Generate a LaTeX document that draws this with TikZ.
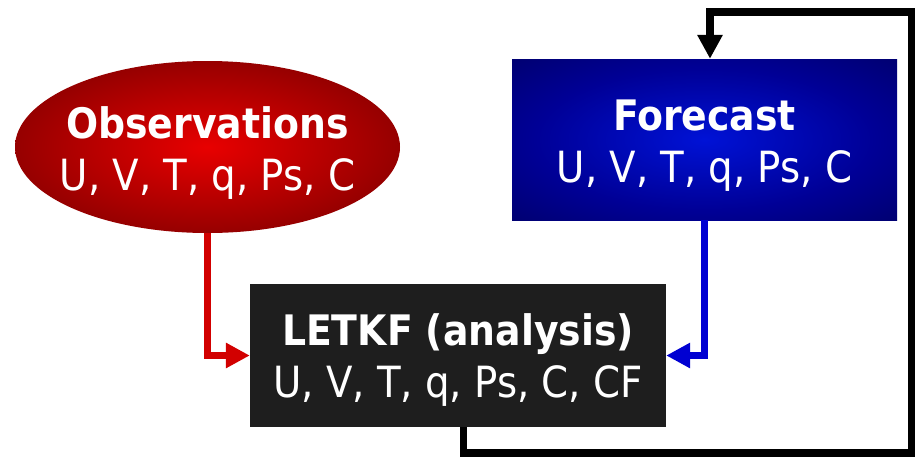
\documentclass[tikz,border=0pt]{standalone}
\usepackage{fontspec}
\setmainfont{DejaVu Sans Condensed}
\usetikzlibrary{arrows.meta,shapes.geometric}
\definecolor{obsin}{RGB}{232,0,0}
\definecolor{obsmid}{RGB}{160,0,0}
\definecolor{obsout}{RGB}{100,0,0}
\definecolor{fcin}{RGB}{0,18,214}
\definecolor{fcmid}{RGB}{0,0,150}
\definecolor{fcout}{RGB}{0,0,96}
\definecolor{letkfbg}{RGB}{30,30,30}
\definecolor{redline}{RGB}{210,0,0}
\definecolor{blueline}{RGB}{0,0,210}
\pgfdeclareradialshading{obsshade}{\pgfpoint{0bp}{0bp}}{color(0bp)=(obsin); color(22bp)=(obsmid); color(40bp)=(obsout); color(72bp)=(obsout)}
\pgfdeclareradialshading{fcshade}{\pgfpoint{0bp}{0bp}}{color(0bp)=(fcin); color(22bp)=(fcmid); color(42bp)=(fcout); color(72bp)=(fcout)}
\newcommand{\hd}[2]{\rule{0pt}{#1}{\fontsize{42}{52}\selectfont\bfseries #2}}
\tikzset{
  boxtext/.style={text=white, align=center, inner sep=0pt, font=\fontsize{43}{52}\selectfont},
  conn/.style={line width=7.5pt, line join=miter, -{Triangle[length=24pt,width=24pt]}},
}
\begin{document}
\begin{tikzpicture}[x=1pt,y=-1pt]
\useasboundingbox (0,0) rectangle (918,459);
\node[boxtext, ellipse, inner xsep=-30pt, shading=obsshade, minimum width=385pt, minimum height=172pt] (obs) at (207.5,147)
  {\hd{44pt}{Observations}\\U, V, T, q, Ps, C};
\node[boxtext, rectangle, shading=fcshade, minimum width=385pt, minimum height=161pt] (fc) at (704.5,139.5)
  {\hd{43pt}{Forecast}\\U, V, T, q, Ps, C};
\node[boxtext, rectangle, fill=letkfbg, minimum width=416pt, minimum height=143pt] (letkf) at (458,355.5)
  {\hd{41pt}{LETKF (analysis)}\\U, V, T, q, Ps, C, CF};
\coordinate (c1) at (463.5,453);
\coordinate (c2) at (911.5,453);
\coordinate (c3) at (911.5,12);
\coordinate (c4) at (710,12);
\draw[conn, draw=redline] (obs.south) |- (letkf.west);
\draw[conn, draw=blueline] (fc.south) |- (letkf.east);
\draw[conn, draw=black] (letkf.south -| c1) -- (c1) -- (c2) -- (c3) -- (c4) -- (fc.north -| c4);
\end{tikzpicture}
\end{document}
